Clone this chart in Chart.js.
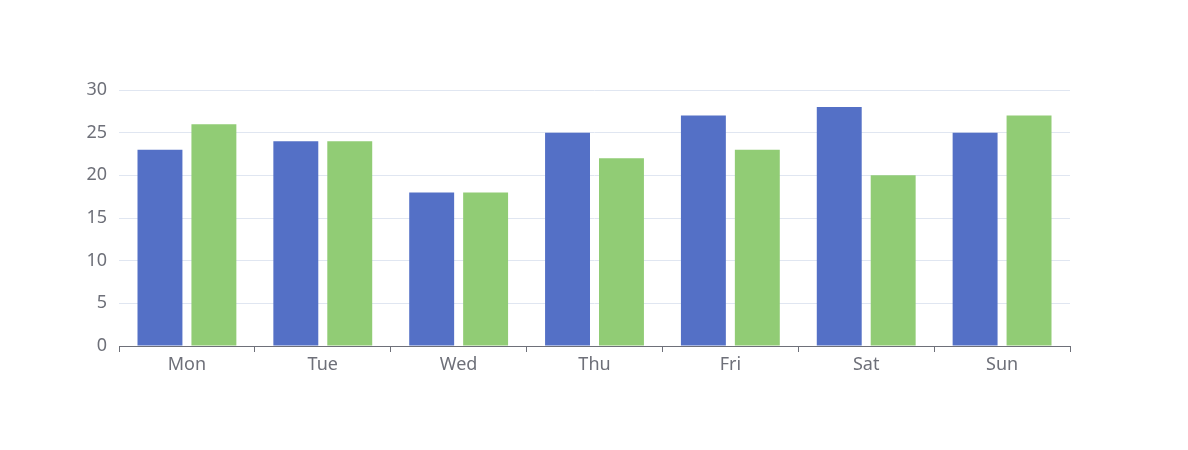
<!DOCTYPE html>
<html>
<head>
<meta charset="utf-8">
<script src="https://cdn.jsdelivr.net/npm/chart.js@4/dist/chart.umd.min.js"></script>
<style>
  html, body { margin: 0; padding: 0; background: #fff; }
  #wrap { width: 1188px; height: 450px; }
</style>
</head>
<body>
<div id="wrap"><canvas id="barChart"></canvas></div>
<script>
const days = ['Mon', 'Tue', 'Wed', 'Thu', 'Fri', 'Sat', 'Sun'];
const seriesA = [23, 24, 18, 25, 27, 28, 25];
const seriesB = [26, 24, 18, 22, 23, 20, 27];
const yTicks = [0, 5, 10, 15, 20, 25, 30];

const labelColor = '#6E7079';
const font = { family: '"Noto Sans", "DejaVu Sans", sans-serif', size: 18 };

new Chart(document.getElementById('barChart'), {
    type: 'bar',
    data: {
        labels: days,
        datasets: [
            { label: 'A', data: seriesA, backgroundColor: '#5470c6' },
            { label: 'B', data: seriesB, backgroundColor: '#91cc75' }
        ]
    },
    options: {
        responsive: true,
        maintainAspectRatio: false,
        animation: false,
        categoryPercentage: 0.794,
        barPercentage: 0.833,
        layout: { padding: { top: 90, right: 118, bottom: 74, left: 0 } },
        plugins: { legend: { display: false }, tooltip: { enabled: false } },
        scales: {
            x: {
                offset: true,
                grid: {
                    offset: true,
                    drawOnChartArea: false,
                    drawTicks: true,
                    tickLength: 6,
                    color: labelColor
                },
                border: { display: true, color: labelColor, width: 1 },
                ticks: { color: labelColor, font: font, padding: 2 },
                afterFit: (s) => { s.height = 30; }
            },
            y: {
                min: 0,
                max: 30,
                afterBuildTicks: (s) => { s.ticks = yTicks.map(v => ({ value: v })); },
                grid: { color: '#E0E6F1', drawTicks: false },
                border: { display: false },
                ticks: { color: labelColor, font: font, padding: 12 },
                afterFit: (s) => { s.width = 119; }
            }
        }
    }
});
</script>
</body>
</html>
